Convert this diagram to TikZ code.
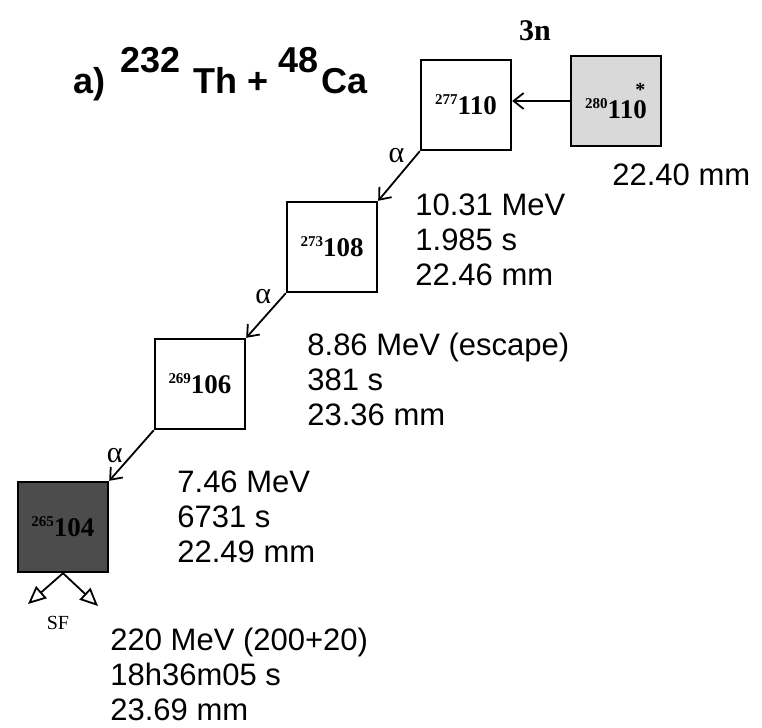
\documentclass[tikz,border=0pt]{standalone}
\usepackage{fontspec}
\setmainfont{Liberation Serif}
\setsansfont{Liberation Sans}
\usetikzlibrary{arrows.meta}
\newcommand{\iso}[2]{\raisebox{5pt}{\fontsize{7.5}{8}\selectfont #1}#2}
\tikzset{
  nucl/.style={draw, line width=1.2pt, minimum width=45pt, minimum height=45pt,
    inner sep=0pt, font=\fontsize{13.5}{14}\selectfont\bfseries},
  decay/.style={-{Straight Barb[length=5pt,width=8pt]}, line width=0.9pt},
  fission/.style={-{Triangle[open,length=9pt,width=8pt]}, line width=0.9pt},
  info/.style={anchor=north west, inner sep=0pt, align=left,
    font=\sffamily\fontsize{15.5}{17.5}\selectfont},
  alab/.style={font=\fontsize{15}{15}\selectfont, inner sep=1pt}
}
\begin{document}
\begin{tikzpicture}[x=0.5pt, y=-0.5pt]
  \useasboundingbox (0,0) rectangle (762,728);
  % title
  \node[anchor=base west, inner sep=0pt, font=\sffamily\bfseries\fontsize{18}{21}\selectfont] (title) at (73,93)
    {a)\hspace{7.5pt}\raisebox{10.5pt}{232}\hspace{6.5pt}Th + \raisebox{10.5pt}{48}\hspace{1.5pt}Ca};
  % decay chain
  \node[nucl, fill=black!15] (n280) at (616,101) {\iso{280}{110\llap{\raisebox{0.8em}{\fontsize{10}{10}\selectfont *}\hspace{0.05em}}}};
  \node[nucl] (n277) at (466,105) {\iso{277}{110}};
  \node[nucl] (n273) at (332,247) {\iso{273}{108}};
  \node[nucl] (n269) at (200,384) {\iso{269}{106}};
  \node[nucl, fill=black!70] (n265) at (63,527) {\iso{265}{104}};
  \node[font=\fontsize{15}{15}\selectfont\bfseries] (evap) at (535,31) {3n};
  \draw[decay] (n280.west) -- (n280.west -| n277.east);
  \draw[decay] (n277.south west) -- node[alab, pos=0.3, above left] {α} (n273.north east);
  \draw[decay] (n273.south west) -- node[alab, pos=0.3, above left] {α} (n269.north east);
  \draw[decay] (n269.south west) -- node[alab, pos=0.5, left=3pt] {α} (n265.north east);
  % fission
  \coordinate (sfL) at (28,604);
  \coordinate (sfR) at (98,606);
  \draw[fission] (n265.south) -- (sfL);
  \draw[fission] (n265.south) -- (sfR);
  \node[font=\fontsize{10}{10}\selectfont] (sf) at (58,623) {SF};
  % measured values
  \node[info] (d280) at (612,163) {22.40 mm};
  \node[info] (d277) at (415,193) {10.31 MeV\\1.985 s\\22.46 mm};
  \node[info] (d273) at (307,333) {8.86 MeV (escape)\\381 s\\23.36 mm};
  \node[info] (d269) at (177,470) {7.46 MeV\\6731 s\\22.49 mm};
  \node[info] (d265) at (110,628) {220 MeV (200+20)\\18h36m05 s\\23.69 mm};
\end{tikzpicture}
\end{document}
